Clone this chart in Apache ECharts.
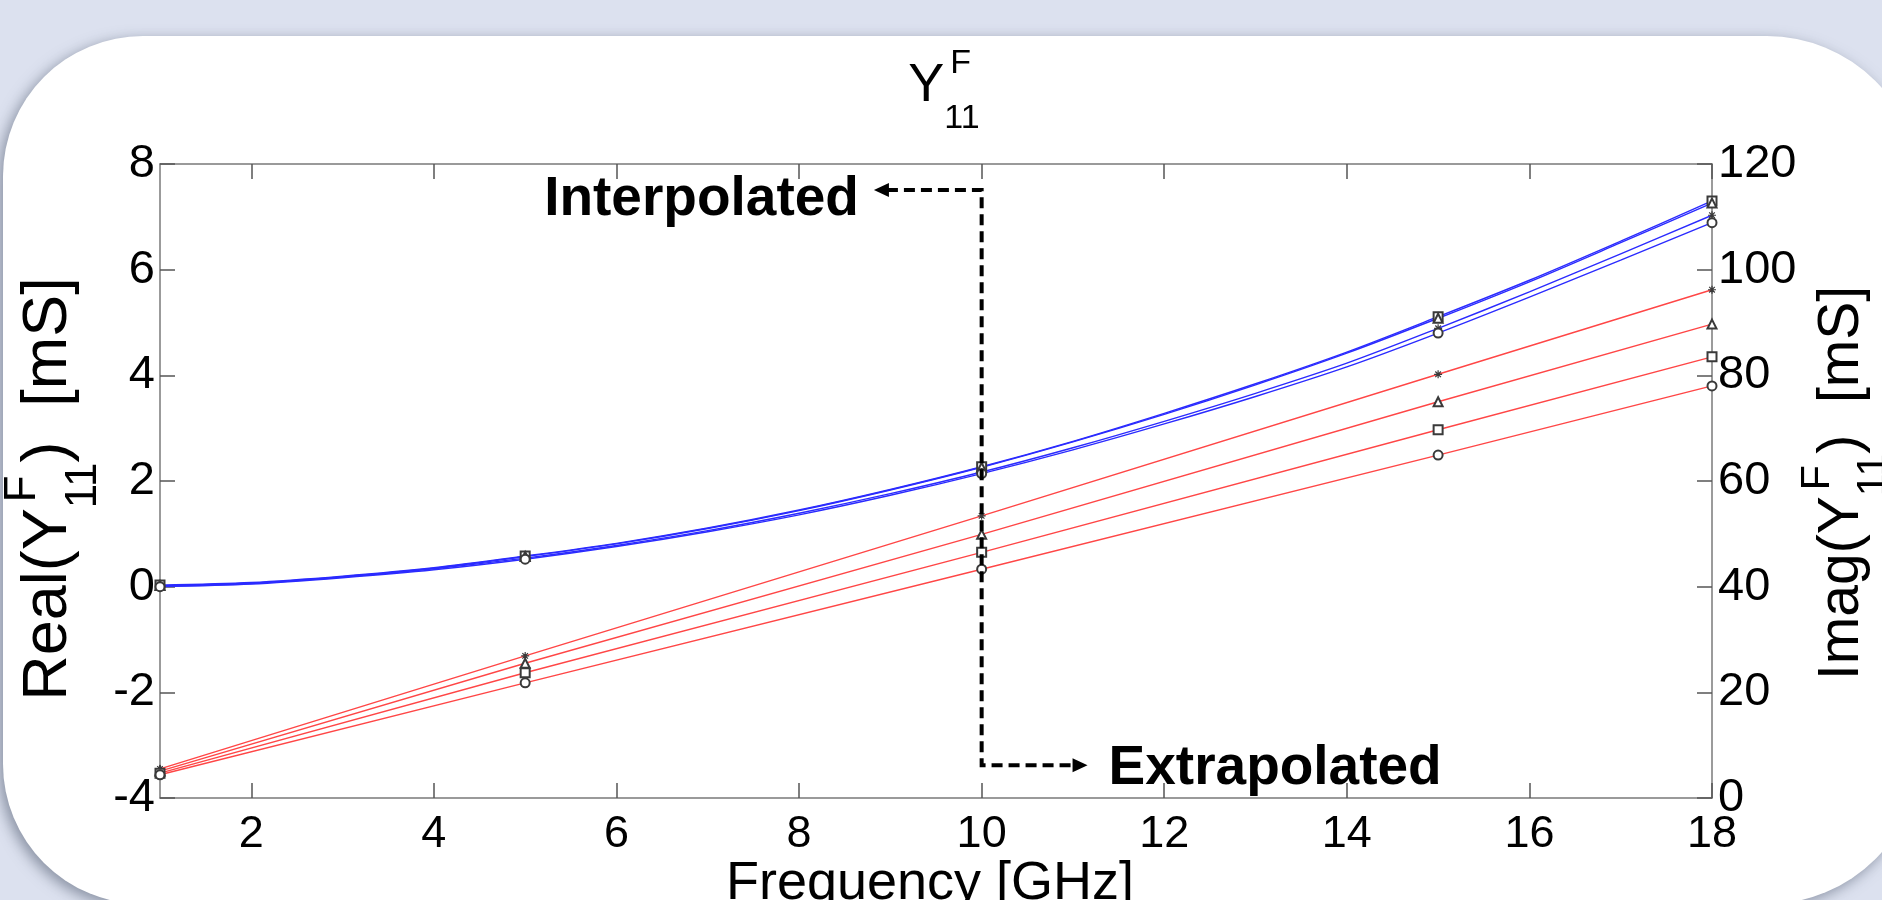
<!DOCTYPE html>
<html>
<head>
<meta charset="utf-8">
<script src="https://cdn.jsdelivr.net/npm/echarts@6/dist/echarts.min.js"></script>
<style>
  html, body { margin: 0; padding: 0; background: #dce1ef; }
  #chart { width: 1882px; height: 900px; }
</style>
</head>
<body>
<div id="chart"></div>
<script>
// Frequencies (GHz) where the model was evaluated and marked
const freqMarked = [1, 5, 10, 15, 18];
// Dense frequency grid for the imaginary-part curves
const freqFine = [1, 2, 3, 4, 5, 6, 7, 8, 9, 10, 11, 12, 13, 14, 15, 16, 17, 18];
// Tick positions on the frequency axis
const freqTicks = [2, 4, 6, 8, 10, 12, 14, 16, 18];

// Real(Y11F) [mS], one array per bias case (left axis)
const realStar = [-3.45, -1.31, 1.34, 4.02, 5.62];
const realTri  = [-3.49, -1.45, 0.99, 3.50, 4.97];
const realSq   = [-3.53, -1.63, 0.65, 2.97, 4.35];
const realCirc = [-3.56, -1.82, 0.33, 2.49, 3.80];

// Imag(Y11F) [mS], one array per bias case (right axis)
const imagSq   = [40.3, 40.8, 42.0, 43.6, 45.8, 48.2, 51.1, 54.5, 58.4, 62.7, 67.5, 72.8, 78.4, 84.4, 91.1, 98.0, 105.4, 113.0];
const imagTri  = [40.2, 40.7, 41.9, 43.5, 45.7, 48.1, 51.0, 54.4, 58.3, 62.6, 67.4, 72.6, 78.2, 84.2, 90.8, 97.7, 105.1, 112.6];
const imagStar = [40.1, 40.6, 41.8, 43.4, 45.4, 47.8, 50.6, 53.9, 57.6, 61.7, 66.3, 71.3, 76.6, 82.3, 88.9, 95.8, 103.0, 110.3];
const imagCirc = [40.0, 40.5, 41.7, 43.2, 45.2, 47.6, 50.4, 53.6, 57.3, 61.4, 65.9, 70.8, 76.0, 81.6, 88.0, 94.8, 101.8, 108.9];

// Annotation anchors, in (frequency, left-axis) units
const annot = { divider: 10, interpLevel: 7.51, interpTip: 8.82, extrapLevel: -3.38, extrapTip: 11.16 };

const FONT = '"Liberation Sans", Arial, Helvetica, sans-serif';
const RED = '#ff4646';
const BLUE = '#2b2bff';
const MARK = '#3a3a3a';
const STAR = 'path://M5,0L5,10M0,5L10,5M1.5,1.5L8.5,8.5M8.5,1.5L1.5,8.5';

const chart = echarts.init(document.getElementById('chart'), null, { renderer: 'canvas' });

function realSeries(name, vals, symbol) {
  return {
    name, type: 'line', xAxisIndex: 0, yAxisIndex: 0,
    data: freqMarked.map((f, i) => [f, vals[i]]),
    symbol, symbolSize: symbol === STAR ? 8 : 9,
    showSymbol: true,
    lineStyle: { color: RED, width: 1.4 },
    itemStyle: { color: MARK, borderColor: MARK, borderWidth: 1.2 },
    emphasis: { disabled: true },
    z: 3
  };
}

function imagSeries(name, vals, symbol) {
  return {
    name, type: 'line', xAxisIndex: 0, yAxisIndex: 1,
    data: freqFine.map((f, i) => [f, vals[i]]),
    symbol: (v) => (freqMarked.includes(v[0]) ? symbol : 'none'),
    symbolSize: symbol === STAR ? 8 : 9,
    showSymbol: true, showAllSymbol: true,
    smooth: 0.3,
    lineStyle: { color: BLUE, width: 1.4 },
    itemStyle: { color: MARK, borderColor: MARK, borderWidth: 1.2 },
    emphasis: { disabled: true },
    z: 3
  };
}

const axisLineStyle = { color: '#7a7a7a', width: 1.5 };
const tickStyle = { color: '#555', width: 1.5 };

chart.setOption({
  animation: false,
  backgroundColor: 'transparent',
  grid: { left: 160, right: 170, top: 164, bottom: 102, containLabel: false },
  xAxis: [
    {
      type: 'value', min: 1, max: 18, position: 'bottom',
      axisLine: { show: true, onZero: false, lineStyle: axisLineStyle },
      axisTick: { show: true, inside: true, length: 15, lineStyle: tickStyle, customValues: freqTicks },
      axisLabel: { fontSize: 45, fontFamily: FONT, color: '#000', margin: 14, customValues: freqTicks },
      splitLine: { show: false }
    },
    {
      type: 'value', min: 1, max: 18, position: 'top',
      axisLine: { show: true, onZero: false, lineStyle: axisLineStyle },
      axisTick: { show: true, inside: true, length: 15, lineStyle: tickStyle, customValues: freqTicks },
      axisLabel: { show: false },
      splitLine: { show: false }
    }
  ],
  yAxis: [
    {
      type: 'value', min: -4, max: 8, interval: 2, position: 'left',
      axisLine: { show: true, onZero: false, lineStyle: axisLineStyle },
      axisTick: { show: true, inside: true, length: 15, lineStyle: tickStyle },
      axisLabel: { fontSize: 47, fontFamily: FONT, color: '#000', margin: 5 },
      splitLine: { show: false }
    },
    {
      type: 'value', min: 0, max: 120, interval: 20, position: 'right',
      axisLine: { show: true, onZero: false, lineStyle: axisLineStyle },
      axisTick: { show: true, inside: true, length: 15, lineStyle: tickStyle },
      axisLabel: { fontSize: 47, fontFamily: FONT, color: '#000', margin: 6 },
      splitLine: { show: false }
    }
  ],
  series: [
    realSeries('Re star', realStar, STAR),
    realSeries('Re triangle', realTri, 'emptyTriangle'),
    realSeries('Re square', realSq, 'emptyRect'),
    realSeries('Re circle', realCirc, 'emptyCircle'),
    imagSeries('Im square', imagSq, 'emptyRect'),
    imagSeries('Im triangle', imagTri, 'emptyTriangle'),
    imagSeries('Im star', imagStar, STAR),
    imagSeries('Im circle', imagCirc, 'emptyCircle')
  ]
});

// ---- text helpers -------------------------------------------------------
const measureCtx = document.createElement('canvas').getContext('2d');
function textWidth(str, size, weight) {
  measureCtx.font = `${weight || 'normal'} ${size}px ${FONT}`;
  return measureCtx.measureText(str).width;
}
function fontOf(size, weight) { return `${weight || 'normal'} ${size}px ${FONT}`; }

// Text with a stacked superscript / subscript after the lead (e.g. Y with F over 11)
function scriptedLabel(o) {
  const wLead = textWidth(o.lead, o.size);
  const wScript = Math.max(textWidth(o.sup, o.scriptSize), textWidth(o.sub, o.scriptSize));
  const wTail = o.tail ? textWidth(o.tail, o.size) : 0;
  const total = wLead + wScript + wTail;
  const x0 = -total / 2;
  const base = { fill: '#000', verticalAlign: 'middle', align: 'left' };
  const children = [
    { type: 'text', style: Object.assign({ text: o.lead, x: x0, y: 0, font: fontOf(o.size) }, base) },
    { type: 'text', style: Object.assign({ text: o.sup, x: x0 + wLead + o.supShift, y: o.supDy * o.size, font: fontOf(o.scriptSize) }, base) },
    { type: 'text', style: Object.assign({ text: o.sub, x: x0 + wLead, y: o.subDy * o.size, font: fontOf(o.scriptSize) }, base) }
  ];
  if (o.tail) {
    children.push({ type: 'text', style: Object.assign({ text: o.tail, x: x0 + wLead + wScript, y: 0, font: fontOf(o.size) }, base) });
  }
  return { type: 'group', x: o.cx, y: o.cy, rotation: o.rotation || 0, children, z: 10 };
}

function buildGraphics() {
  const px = (f, v) => chart.convertToPixel({ xAxisIndex: 0, yAxisIndex: 0 }, [f, v]);
  const top = px(annot.divider, annot.interpLevel);
  const bottom = px(annot.divider, annot.extrapLevel);
  const iTip = px(annot.interpTip, annot.interpLevel);
  const eTip = px(annot.extrapTip, annot.extrapLevel);
  const head = 15, half = 7;
  const dash = { stroke: '#000', lineWidth: 4, lineDash: [11, 6], fill: null };

  return [
    // white rounded panel with a soft drop shadow
    {
      type: 'rect', z: -10, silent: true,
      shape: { x: 3, y: 36, width: 1917, height: 868, r: [140, 153, 153, 140] },
      style: { fill: '#ffffff', shadowBlur: 14, shadowColor: 'rgba(70,80,100,0.55)', shadowOffsetX: -4, shadowOffsetY: 4 }
    },
    // chart title
    scriptedLabel({ lead: 'Y', sup: 'F', sub: '11', size: 54, scriptSize: 34, supShift: 6,
      supDy: -0.42, subDy: 0.6, cx: 944, cy: 86 }),
    // left axis name
    scriptedLabel({ lead: 'Real(Y', sup: 'F', sub: '11', tail: ')  [mS]', size: 63, scriptSize: 44, supShift: 6,
      supDy: -0.42, subDy: 0.55, cx: 49, cy: 489, rotation: Math.PI / 2 }),
    // right axis name
    scriptedLabel({ lead: 'Imag(Y', sup: 'F', sub: '11', tail: ')  [mS]', size: 57, scriptSize: 41, supShift: 6,
      supDy: -0.42, subDy: 0.55, cx: 1842, cy: 483, rotation: Math.PI / 2 }),
    // frequency axis name
    {
      type: 'text', z: 10,
      style: { text: 'Frequency [GHz]', x: 930, y: 884, font: fontOf(54), fill: '#000', align: 'center', verticalAlign: 'middle' }
    },
    // dashed divider between the interpolated and extrapolated bands
    {
      type: 'polyline', z: 8, silent: true,
      shape: { points: [[iTip[0] + head - 2, top[1]], [top[0], top[1]], [bottom[0], bottom[1]], [eTip[0] - head + 2, bottom[1]]] },
      style: dash
    },
    {
      type: 'polygon', z: 8, silent: true,
      shape: { points: [[iTip[0], iTip[1]], [iTip[0] + head, iTip[1] - half], [iTip[0] + head, iTip[1] + half]] },
      style: { fill: '#000' }
    },
    {
      type: 'polygon', z: 8, silent: true,
      shape: { points: [[eTip[0], eTip[1]], [eTip[0] - head, eTip[1] - half], [eTip[0] - head, eTip[1] + half]] },
      style: { fill: '#000' }
    },
    {
      type: 'text', z: 10,
      style: { text: 'Interpolated', x: iTip[0] - 15, y: iTip[1] + 10, font: fontOf(55, 'bold'), fill: '#000', align: 'right', verticalAlign: 'middle' }
    },
    {
      type: 'text', z: 10,
      style: { text: 'Extrapolated', x: eTip[0] + 21, y: eTip[1] + 4, font: fontOf(55, 'bold'), fill: '#000', align: 'left', verticalAlign: 'middle' }
    }
  ];
}

chart.setOption({ graphic: buildGraphics() });
</script>
</body>
</html>
